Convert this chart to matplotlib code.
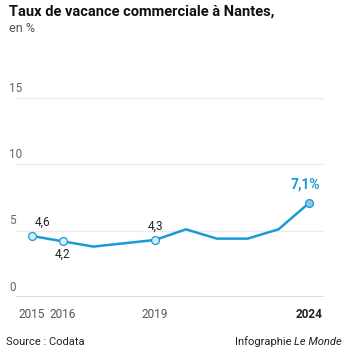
import matplotlib
matplotlib.use("Agg")
import matplotlib.pyplot as plt

# Taux de vacance commerciale, Nantes
years = [2015, 2016, 2017, 2018, 2019, 2020, 2021, 2022, 2023, 2024]
rates = [4.6, 4.2, 3.8, 4.05, 4.3, 5.1, 4.4, 4.4, 5.1, 7.1]
marked_years = [2015, 2016, 2019]
marked_rates = [4.6, 4.2, 4.3]
value_labels = ["4,6", "4,2", "4,3"]
label_above = [True, False, True]
yticks = [0, 5, 10, 15]
xticks = [2015, 2016, 2019, 2024]

BLUE = "#1a9ad6"
LIGHT = "#d6eaf7"
DARK_FILL = "#8cc6e6"
GRID = "#ececec"
TXT = "#222222"
GREY = "#555555"

plt.rcParams["font.family"] = ["Roboto", "DejaVu Sans"]

W, H = 346, 352
fig = plt.figure(figsize=(W / 100, H / 100), dpi=100)
fig.patch.set_facecolor("white")

# axes placed in pixel terms: x 16..324, y 0 at 297px, 15 at 98px
left, right = 16, 324
y0px, y15px = 297, 98
ax = fig.add_axes([left / W, 1 - y0px / H, (right - left) / W, (y0px - y15px) / H])
x_first, x_last = 31.7, 309.3
per_year = (x_last - x_first) / 9
ax.set_xlim(2015 - (x_first - left) / per_year, 2024 + (right - x_last) / per_year)
ax.set_ylim(0, 15)
ax.axis("off")

for t in yticks:
    if t == 0:
        ax.axhline(t, color="#555555", lw=1.0, zorder=1)
    else:
        ax.axhline(t, color=GRID, lw=1.0, zorder=1)
    ax.annotate(str(t), xy=(0, t), xycoords=("axes fraction", "data"),
                xytext=(-5, 2.5), textcoords="offset points",
                ha="left", va="bottom", fontsize=8.5, color="#666666")

ax.plot(years, rates, color=BLUE, lw=1.8, zorder=3, solid_joinstyle="round")
ax.scatter(marked_years, marked_rates, s=32, facecolor=LIGHT, edgecolor=BLUE,
           lw=0.9, zorder=4, clip_on=False)
ax.scatter([years[-1]], [rates[-1]], s=32, facecolor=DARK_FILL, edgecolor=BLUE,
           lw=0.9, zorder=4, clip_on=False)

for x, y, lab, up in zip(marked_years, marked_rates, value_labels, label_above):
    if up:
        ax.annotate(lab, xy=(x, y), xytext=(2 if x == 2015 else 0, 5),
                    textcoords="offset points", ha="left" if x == 2015 else "center",
                    va="bottom", fontsize=8.5, color=TXT)
    else:
        ax.annotate(lab, xy=(x, y), xytext=(0, -5), textcoords="offset points",
                    ha="center", va="top", fontsize=8.5, color=TXT)

ax.annotate("7,1%", xy=(years[-1], rates[-1]), xytext=(-3, 8),
            textcoords="offset points", ha="center", va="bottom",
            fontsize=10, fontweight="bold", color=BLUE)

for yr in xticks:
    ax.annotate(str(yr), xy=(yr, 0), xycoords="data", xytext=(0, -8),
                textcoords="offset points", ha="center", va="top",
                fontsize=8.5, color=TXT if yr == 2024 else GREY,
                fontweight="bold" if yr == 2024 else "normal")

fig.text(9 / W, 1 - 12 / H, "Taux de vacance commerciale à Nantes,",
         ha="left", va="center", fontsize=10.5, fontweight="bold", color="#111111")
fig.text(9 / W, 1 - 29 / H, "en %", ha="left", va="center", fontsize=9,
         color="#555555")
fig.text(6 / W, 1 - 342 / H, "Source : Codata", ha="left", va="center",
         fontsize=8, color=TXT)
fig.text(291 / W, 1 - 342 / H, "Infographie", ha="right", va="center",
         fontsize=8, color=TXT)
fig.text(342 / W, 1 - 342 / H, "Le Monde", ha="right", va="center",
         fontsize=8, color=TXT, style="italic")

fig.savefig("out.png", dpi=100)
